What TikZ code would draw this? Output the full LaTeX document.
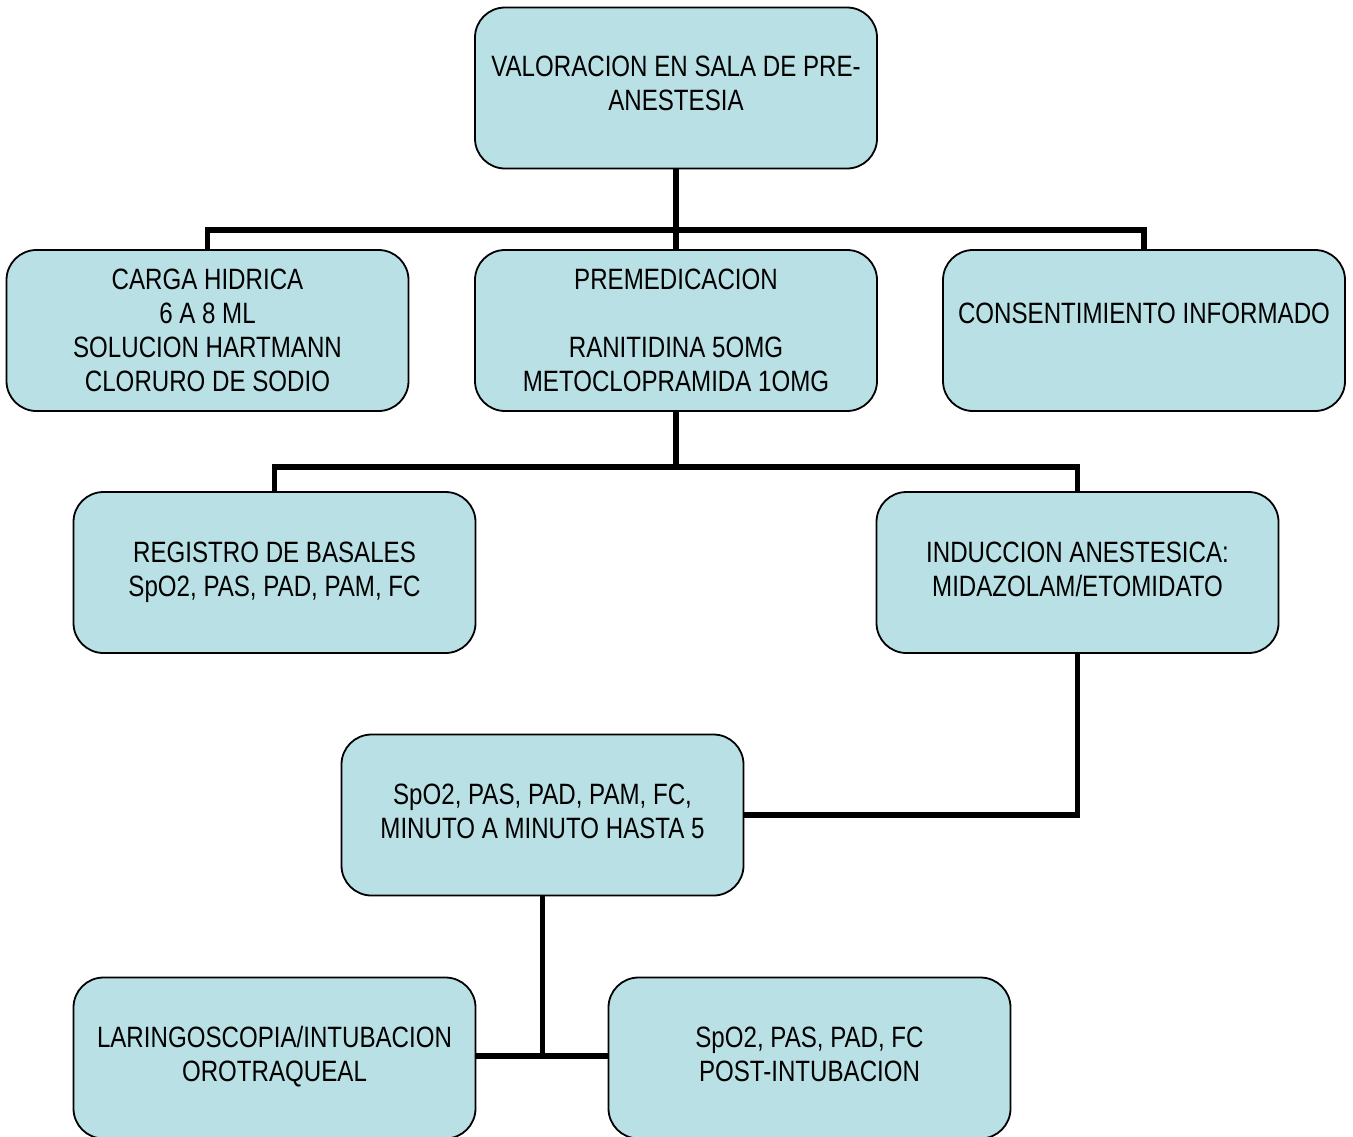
\documentclass[tikz,border=0pt]{standalone}
\usepackage{fontspec}
\setmainfont{Liberation Sans}[FakeStretch=0.82]
\definecolor{boxfill}{RGB}{185,224,228}
\begin{document}
\begin{tikzpicture}[x=0.5pt,y=-0.5pt,
  box/.style={draw=black,line width=0.9pt,fill=boxfill,rounded corners=15pt,
    minimum width=201pt,minimum height=80.5pt,inner sep=0pt,align=center,
    font=\fontsize{14.7pt}{17pt}\selectfont},
  conn/.style={draw=black,line width=2.6pt}]
\clip (0,0) rectangle (1353,1136);
\fill[white] (0,0) rectangle (1353,1136);
\node[box] (top) at (676,88) {VALORACION EN SALA DE PRE-\\ANESTESIA\strut};
\node[box] (cg) at (207.5,330.5) {CARGA HIDRICA\\6 A 8 ML\\SOLUCION HARTMANN\\CLORURO DE SODIO};
\node[box] (pre) at (676,330.5) {PREMEDICACION\\\mbox{}\\RANITIDINA 5OMG\\METOCLOPRAMIDA 1OMG};
\node[box] (con) at (1144,330.5) {CONSENTIMIENTO INFORMADO\\\mbox{}};
\node[box] (reg) at (274.5,572.5) {\strut REGISTRO DE BASALES\\SpO2, PAS, PAD, PAM, FC\strut};
\node[box] (ind) at (1077.5,572.5) {\strut INDUCCION ANESTESICA:\\MIDAZOLAM/ETOMIDATO\strut};
\node[box] (mon) at (542.5,815) {\strut SpO2, PAS, PAD, PAM, FC,\\MINUTO A MINUTO HASTA 5\strut};
\node[box] (lar) at (274.5,1058) {\strut LARINGOSCOPIA/INTUBACION\\OROTRAQUEAL\strut};
\node[box] (post) at (809.5,1058) {\strut SpO2, PAS, PAD, FC\\POST-INTUBACION\strut};
\coordinate (b1) at (676,230);
\coordinate (b2) at (676,467);
\draw[conn] (top.south) -- (b1);
\draw[conn] (cg.north) -- (cg.north |- b1) -- (con.north |- b1) -- (con.north);
\draw[conn] (b1) -- (pre.north);
\draw[conn] (pre.south) -- (b2);
\draw[conn] (reg.north) -- (reg.north |- b2) -- (ind.north |- b2) -- (ind.north);
\draw[conn] (ind.south) |- (mon.east);
\coordinate (b3) at (542.5,1056);
\draw[conn] (mon.south) -- (b3);
\draw[conn] (lar.east |- b3) -- (post.west |- b3);
\end{tikzpicture}
\end{document}
